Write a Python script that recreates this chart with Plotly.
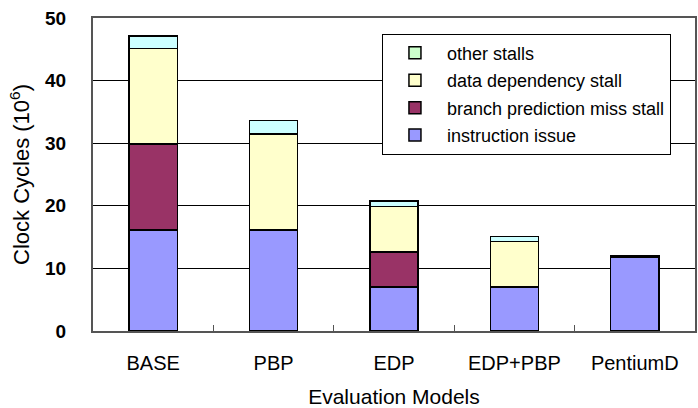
import plotly.graph_objects as go

categories = ["BASE", "PBP", "EDP", "EDP+PBP", "PentiumD"]
instruction_issue = [16.1, 16.1, 7.0, 7.0, 11.8]
branch_miss_stall = [13.8, 0.0, 5.6, 0.0, 0.0]
data_dependency_stall = [15.2, 15.4, 7.3, 7.3, 0.2]
other_stalls = [2.0, 2.1, 0.9, 0.8, 0.1]
y_ticks = [0, 10, 20, 30, 40, 50]

FONT = "Liberation Sans, Arial, sans-serif"
line = dict(color="black", width=1.5)

fig = go.Figure()
series = [
    ("instruction issue", instruction_issue, "#9999FF", 4),
    ("branch prediction miss stall", branch_miss_stall, "#993366", 3),
    ("data dependency stall", data_dependency_stall, "#FFFFCC", 2),
]
for name, vals, col, rank in series:
    fig.add_trace(go.Bar(x=categories, y=vals, name=name, legendgroup=name,
                         legendrank=rank,
                         marker=dict(color=col, line=line)))
fig.add_trace(go.Bar(x=categories, y=other_stalls, name="other stalls",
                     showlegend=False, legendgroup="other",
                     marker=dict(color="#CCFFFF", line=line)))
fig.add_trace(go.Bar(x=categories, y=[None] * len(categories), name="other stalls",
                     legendgroup="other", legendrank=1,
                     marker=dict(color="#CCFFCC", line=line)))

fig.update_layout(
    width=698, height=408,
    margin=dict(l=93, r=3, t=18, b=77),
    barmode="stack", bargap=0.6,
    plot_bgcolor="white", paper_bgcolor="white",
    font=dict(family=FONT, color="black"),
    showlegend=True,
    legend=dict(x=0.48, xanchor="left", y=0.95, yanchor="top",
                bgcolor="white", bordercolor="black", borderwidth=1,
                font=dict(size=18, family=FONT),
                traceorder="grouped", tracegroupgap=1,
                itemwidth=54),
)
fig.update_xaxes(
    automargin=False,
    showline=True, linecolor="#555555", linewidth=2, mirror=True,
    ticks="inside", tickson="boundaries", ticklen=6, tickcolor="#555555",
    tickfont=dict(size=20), ticklabelstandoff=13,
    title=dict(text="Evaluation Models", font=dict(size=21), standoff=27),
)
fig.update_yaxes(
    automargin=False,
    range=[0, 50], tickvals=y_ticks,
    showline=True, linecolor="#555555", linewidth=2, mirror=True,
    showgrid=True, gridcolor="black", gridwidth=1,
    tickfont=dict(size=19, weight="bold"), ticklabelstandoff=21,
    title=dict(text="Clock Cycles (10<sup>6</sup>)", font=dict(size=22), standoff=9),
)
fig.write_html(
    "out.html",
    config={"displayModeBar": False},
    post_script="document.body.style.margin='0';document.body.style.overflow='hidden';",
)
